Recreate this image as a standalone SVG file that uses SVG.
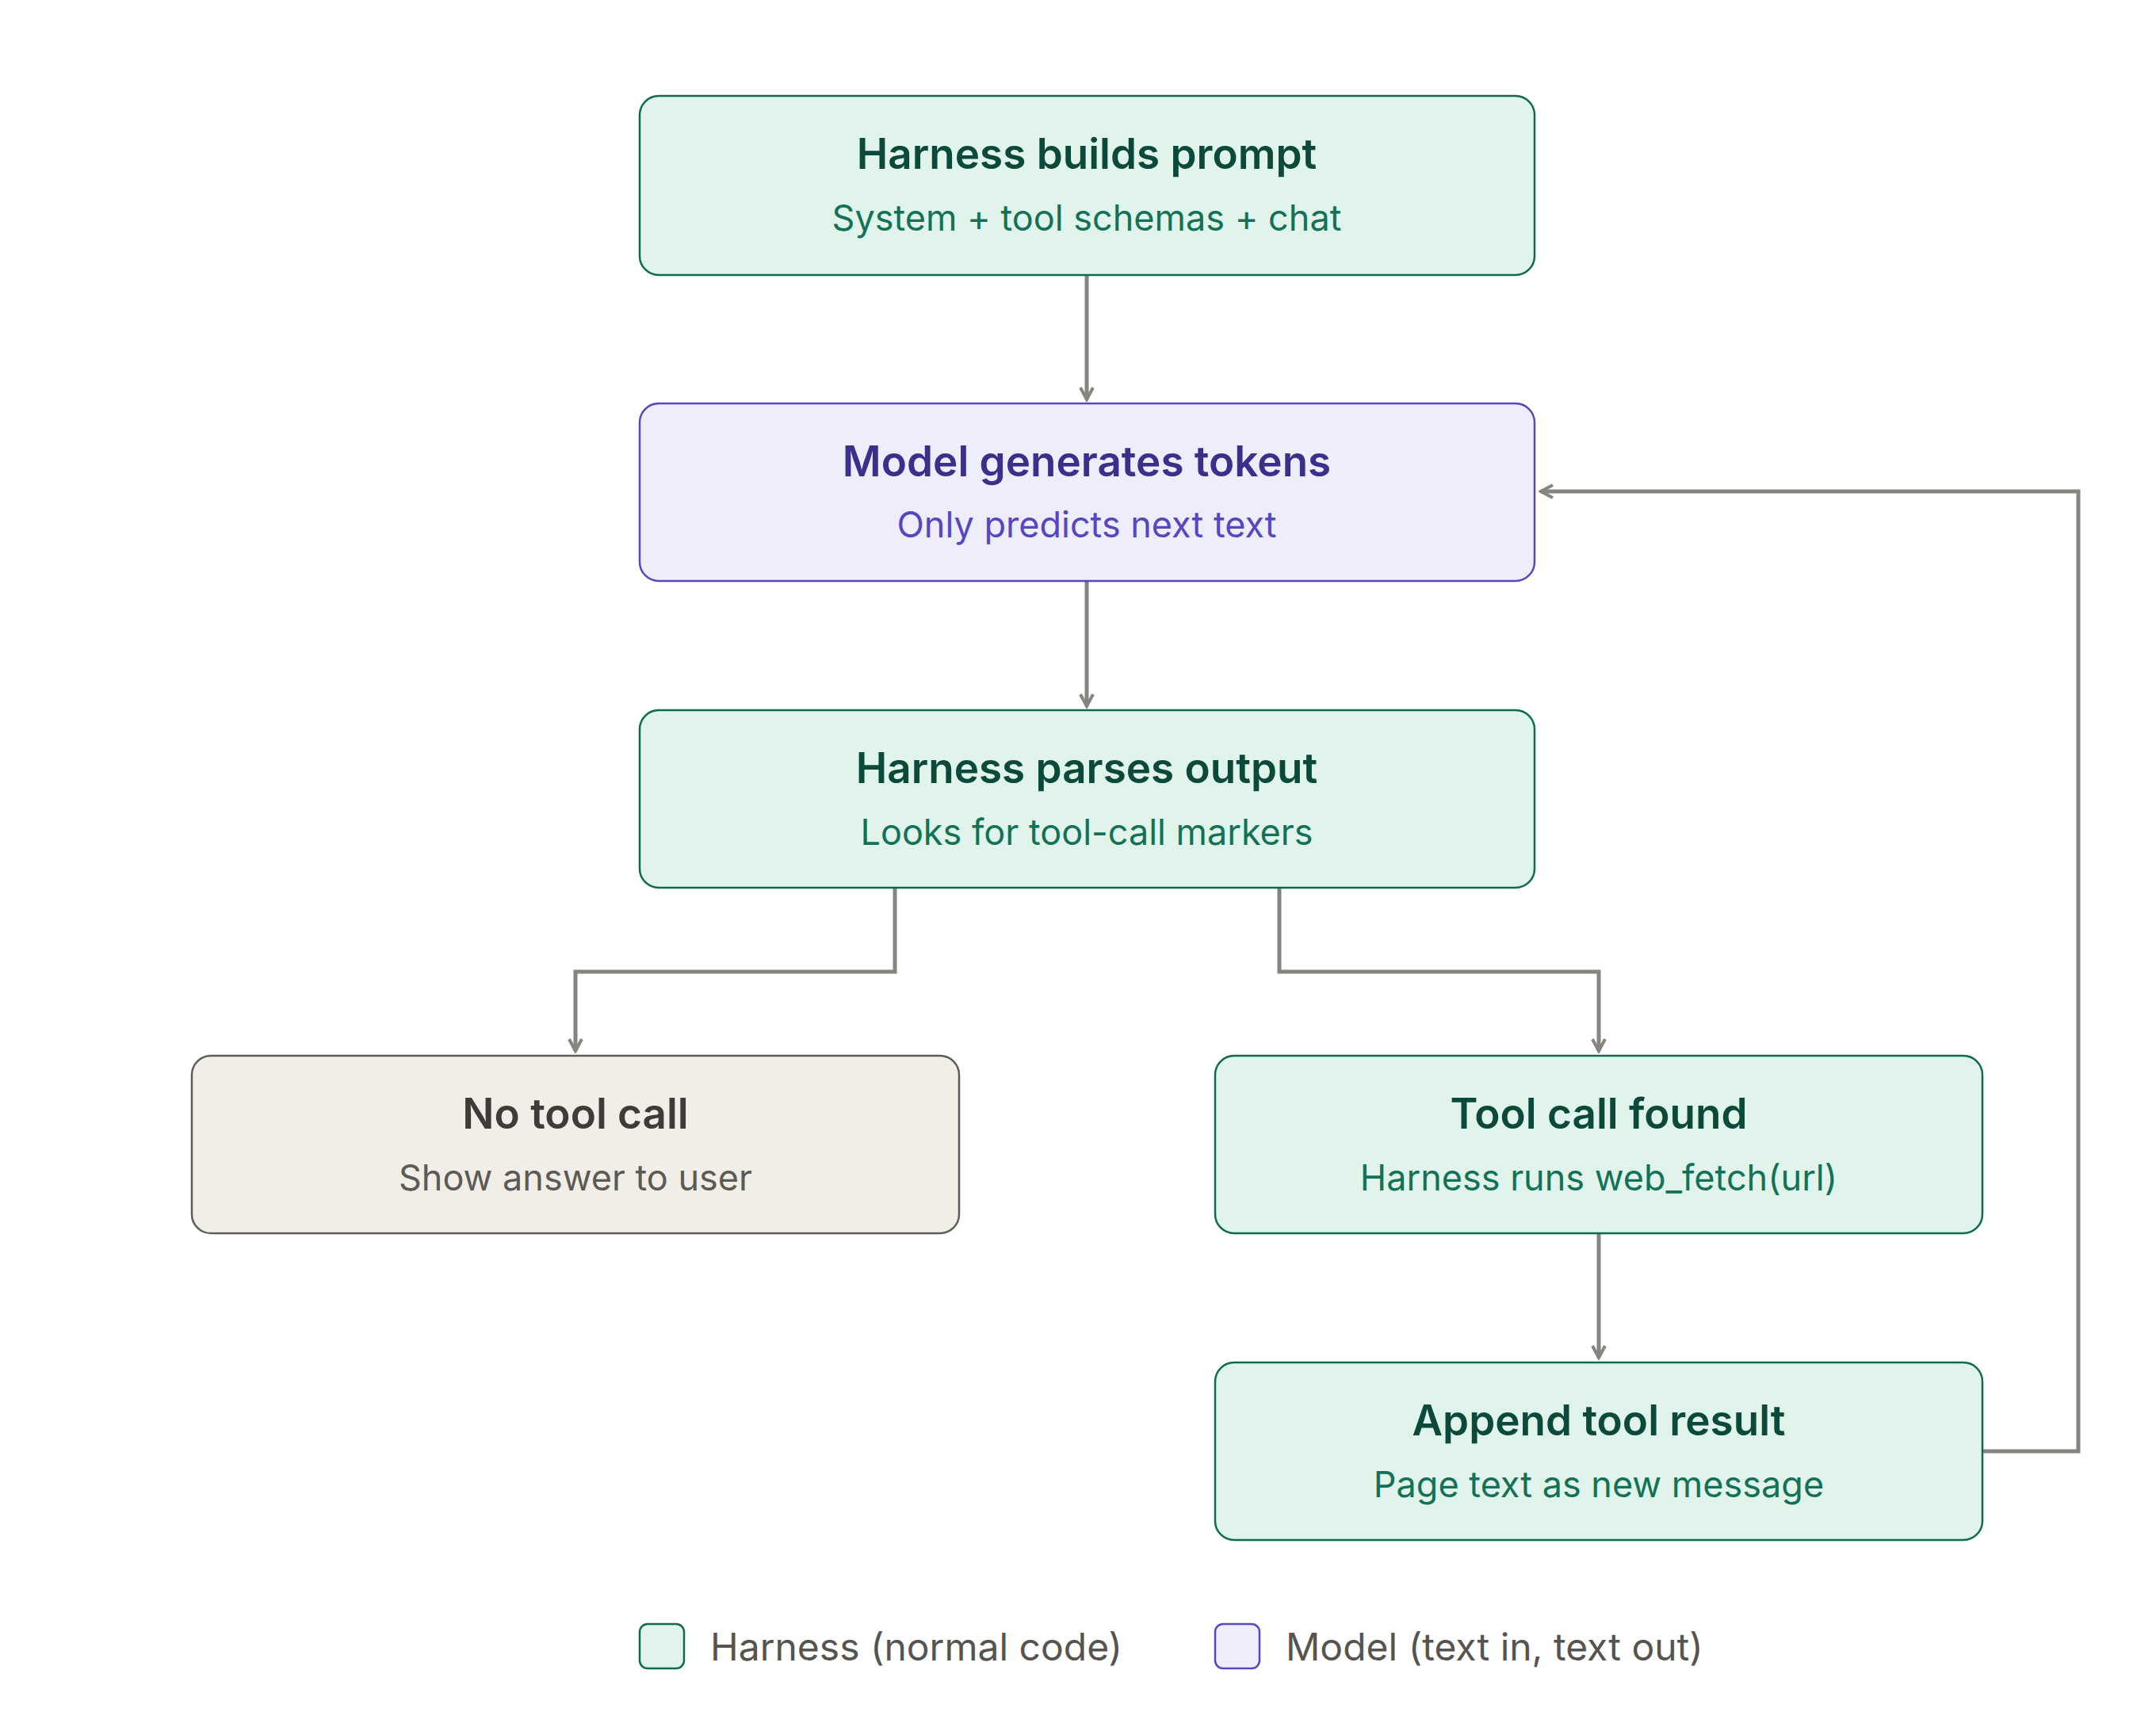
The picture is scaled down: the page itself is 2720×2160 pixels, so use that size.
<svg xmlns="http://www.w3.org/2000/svg" width="2720" height="2160" viewBox="0 0 2720 2160">
<style>
text{font-family:Inter,"Noto Sans",sans-serif;text-anchor:middle}
.t{font-size:53px;font-weight:600}
.s{font-size:45px}
.h rect{fill:#e0f4ec;stroke:#0f6b50;stroke-width:2.5}
.h .t{fill:#0b4a3a}.h .s{fill:#137255}
.m rect{fill:#ededfc;stroke:#5848bf;stroke-width:2.5}
.m .t{fill:#3a2f8a}.m .s{fill:#5646c0}
.n rect{fill:#f1eee8;stroke:#5f5d58;stroke-width:2.5}
.n .t{fill:#3d3c38}.n .s{fill:#5b5a55}
.c{fill:none;stroke:#85847f;stroke-width:5}
.lg{font-size:48px;fill:#555450;text-anchor:start}
</style>
<defs><marker id="a" viewBox="0 0 20 20" refX="17" refY="10" markerWidth="20" markerHeight="20" markerUnits="userSpaceOnUse" orient="auto"><path d="M2 2L17 10L2 18" fill="none" stroke="#85847f" stroke-width="4"/></marker></defs>
<rect width="2720" height="2160" fill="#fff"/>
<g id="connectors">
<path class="c" d="M1371 347V504" marker-end="url(#a)"/>
<path class="c" d="M1371 733V891" marker-end="url(#a)"/>
<path class="c" d="M1129 1120V1226H726V1326" marker-end="url(#a)"/>
<path class="c" d="M1614 1120V1226H2017V1326" marker-end="url(#a)"/>
<path class="c" d="M2017 1556V1713" marker-end="url(#a)"/>
<path class="c" d="M2501 1831H2622V620H1944" marker-end="url(#a)"/>
</g>
<g id="n1" class="h"><rect x="807" y="121" width="1129" height="226" rx="24"/><text class="t" x="1371" y="213">Harness builds prompt</text><text class="s" x="1371" y="291">System + tool schemas + chat</text></g>
<g id="n2" class="m"><rect x="807" y="509" width="1129" height="224" rx="24"/><text class="t" x="1371" y="601">Model generates tokens</text><text class="s" x="1371" y="678">Only predicts next text</text></g>
<g id="n3" class="h"><rect x="807" y="896" width="1129" height="224" rx="24"/><text class="t" x="1371" y="988">Harness parses output</text><text class="s" x="1371" y="1066">Looks for tool-call markers</text></g>
<g id="n4" class="n"><rect x="242" y="1332" width="968" height="224" rx="24"/><text class="t" x="726" y="1424">No tool call</text><text class="s" x="726" y="1502">Show answer to user</text></g>
<g id="n5" class="h"><rect x="1533" y="1332" width="968" height="224" rx="24"/><text class="t" x="2017" y="1424">Tool call found</text><text class="s" x="2017" y="1502">Harness runs web_fetch(url)</text></g>
<g id="n6" class="h"><rect x="1533" y="1719" width="968" height="224" rx="24"/><text class="t" x="2017" y="1811">Append tool result</text><text class="s" x="2017" y="1889">Page text as new message</text></g>
<g id="legend">
<g class="h"><rect x="807" y="2049" width="56" height="56" rx="10"/></g>
<text class="lg" x="896" y="2095">Harness (normal code)</text>
<g class="m"><rect x="1533" y="2049" width="56" height="56" rx="10"/></g>
<text class="lg" x="1622" y="2095">Model (text in, text out)</text>
</g>
</svg>
